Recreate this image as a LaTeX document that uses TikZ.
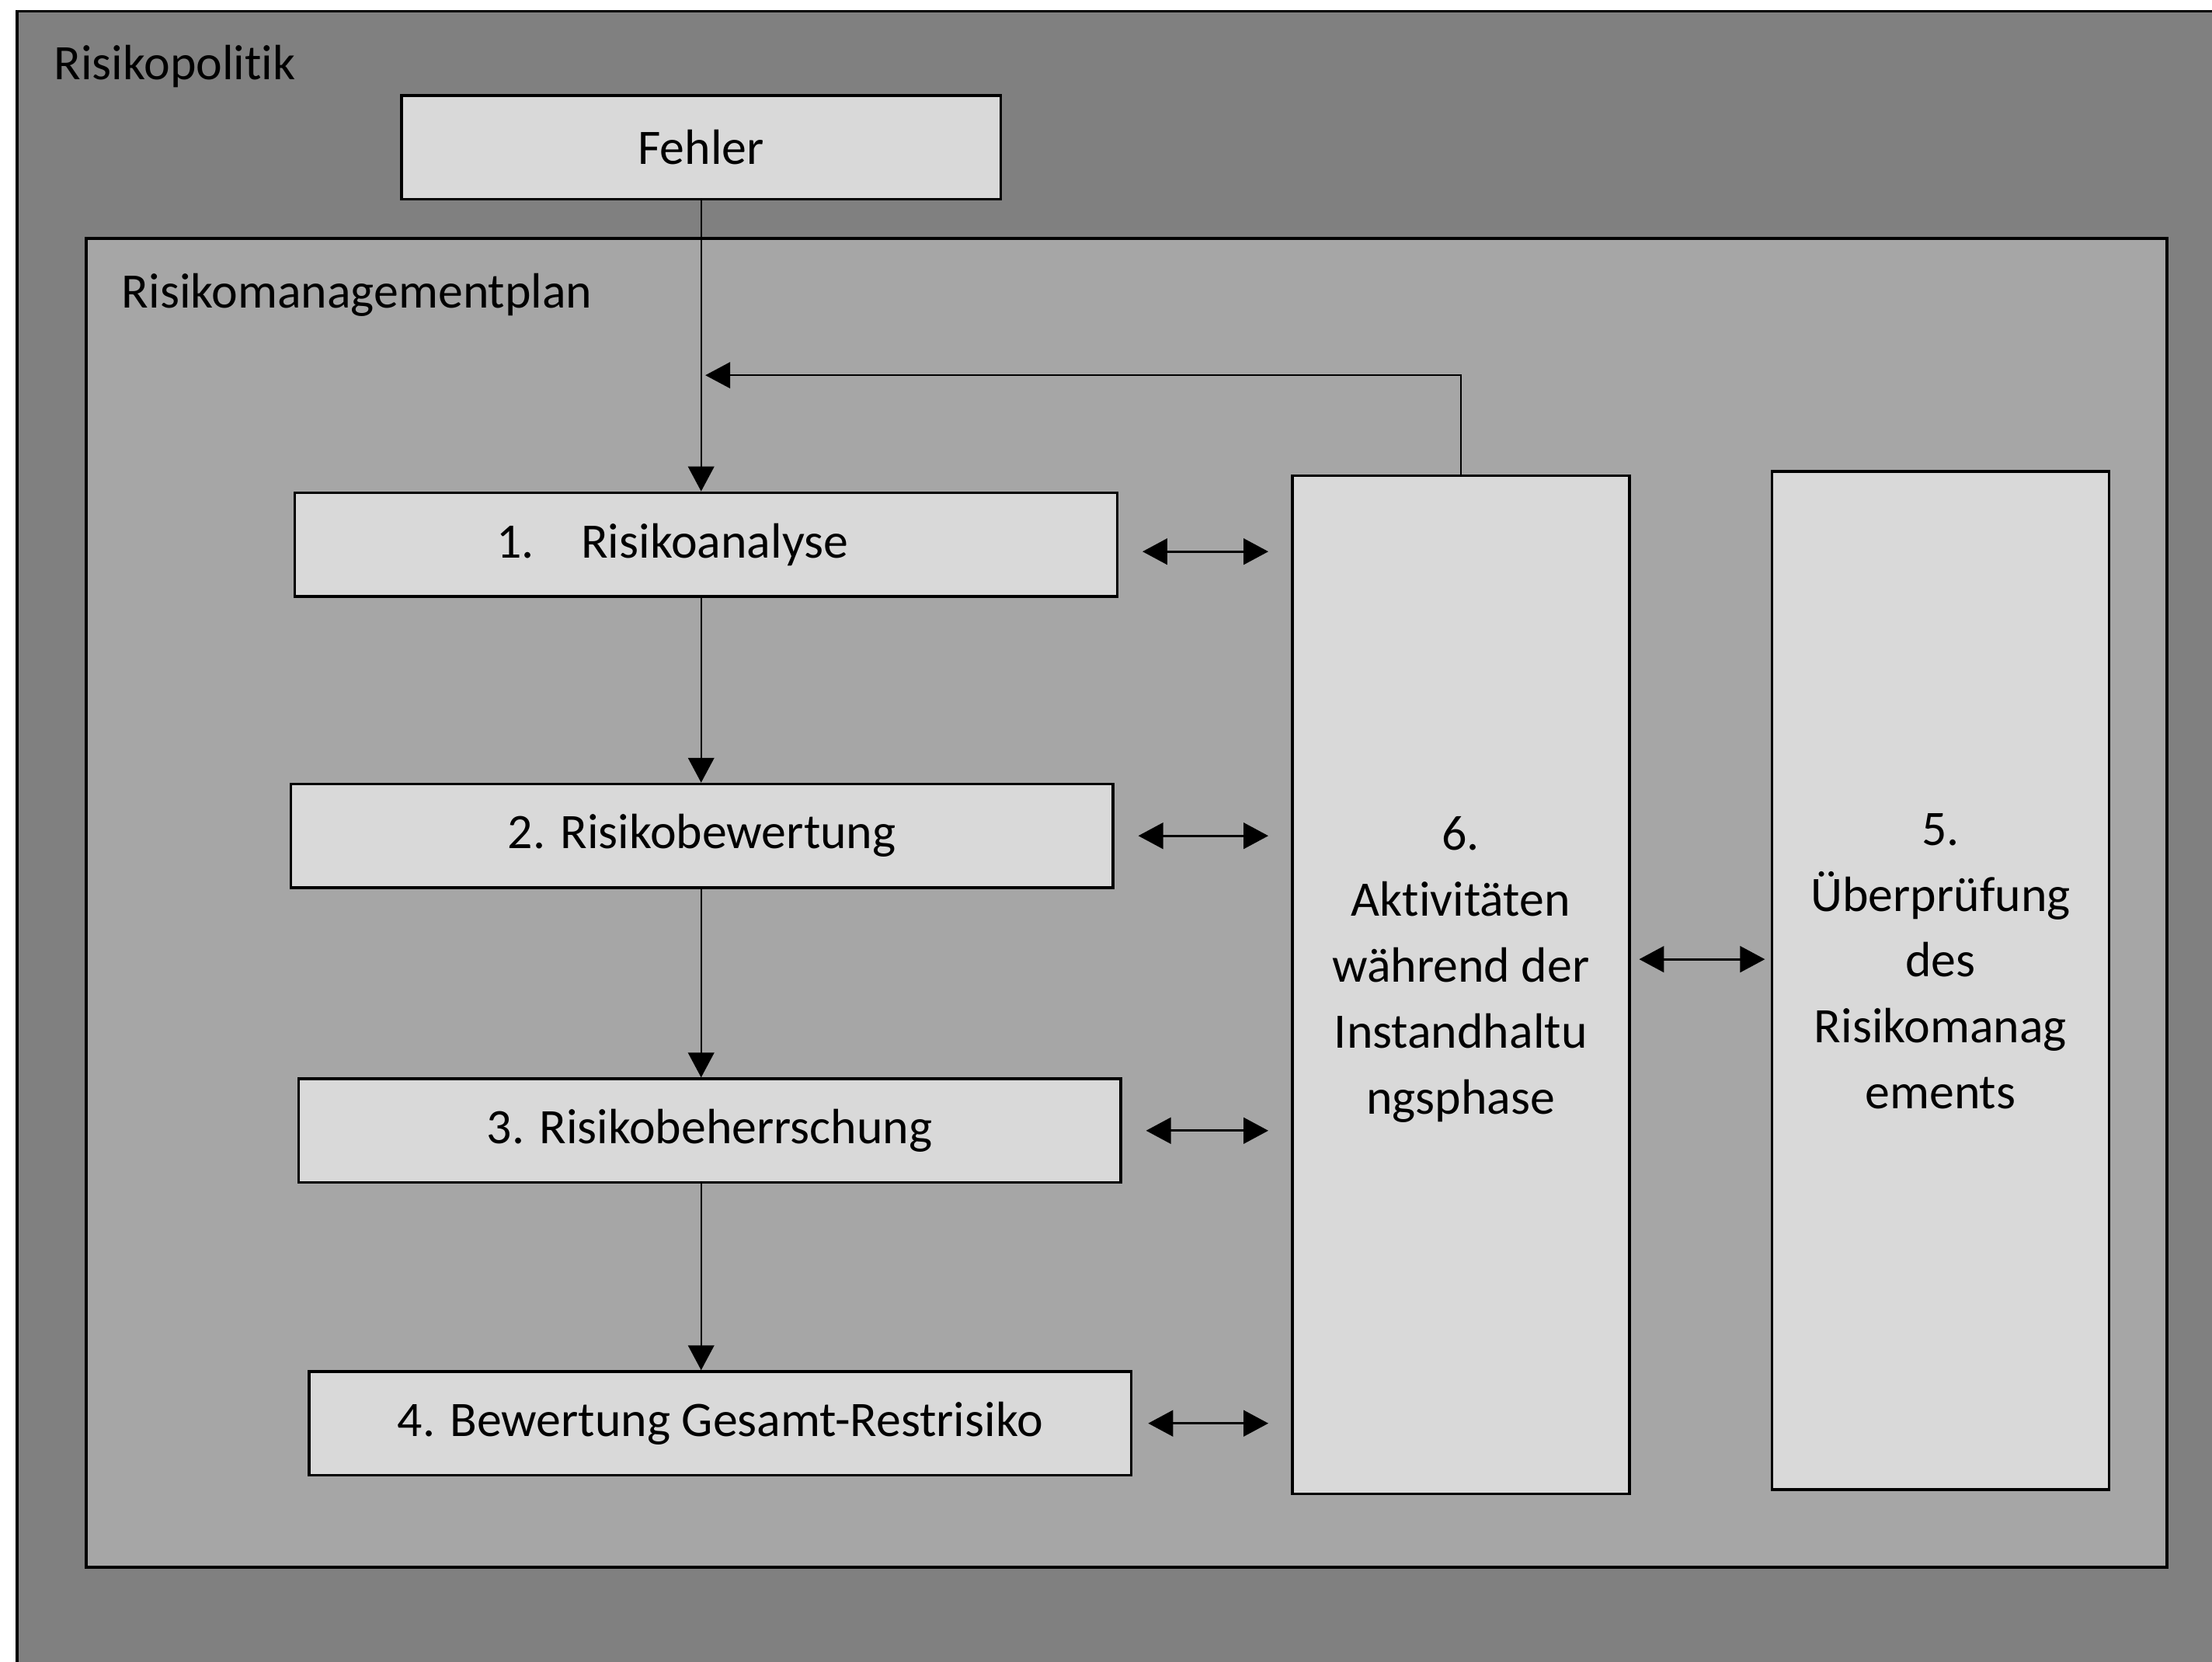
\documentclass[tikz,border=0pt]{standalone}
\usepackage{fontspec}
\setmainfont{Carlito}[Ligatures=NoCommon]
\usepackage{tikz}
\usetikzlibrary{arrows.meta, positioning}
\definecolor{outergray}{HTML}{808080}
\definecolor{innergray}{HTML}{A6A6A6}
\definecolor{boxgray}{HTML}{D9D9D9}
\tikzstyle{stepbox} = [draw=black, line width=1.1pt, fill=boxgray, minimum width=11.66cm, minimum height=1.47cm, inner sep=0pt, align=center]
\tikzstyle{tallbox} = [stepbox, minimum width=4.78cm, minimum height=14.44cm, text depth=0.55cm]
\tikzstyle{arrow} = [line width=0.7pt, -{Triangle[length=10pt, width=10.5pt]}]
\tikzstyle{twoway} = [line width=0.9pt, {Triangle[length=10pt, width=10.5pt]}-{Triangle[length=10pt, width=10.5pt]}, shorten >=0.32cm]

\begin{document}
\begin{tikzpicture}[x=0.02cm, y=-0.02cm, font=\fontsize{20pt}{26.6pt}\selectfont]
    \useasboundingbox[fill=white] (0,0) rectangle (1568,1178);
    % Risikopolitik
    \fill[outergray] (12,8) rectangle (1568,1178);
    \draw[line width=1.1pt] (12,1178) |- (1568,8);
    \node[anchor=west, inner sep=0pt] (politik) at (38,47) {Risikopolitik};
    \node[stepbox, minimum width=8.5cm] (fehler) at (497,104.5) {Fehler};
    % Risikomanagementplan
    \draw[line width=1.1pt, fill=innergray] (61,169) rectangle (1536,1111);
    \node[anchor=west, inner sep=0pt] (plan) at (86,209) {Risikomanagementplan};

    \node[stepbox] (analyse) at (500.5,386) {1.\hspace{0.95em}Risikoanalyse\hspace{1.36em}\null};
    \node[stepbox] (bewertung) at (497.5,592.5) {2. Risikobewertung};
    \node[stepbox] (beherrschung) at (503,801.5) {3. Risikobeherrschung};
    \node[stepbox] (restrisiko) at (510.5,1009) {4. Bewertung Gesamt-Restrisiko};
    \node[tallbox] (aktiv) at (1035.5,698) {6.\\Aktivitäten\\während der\\Instandhaltu\\ngsphase};
    \node[tallbox] (pruefung) at (1375.5,695) {5.\\Überprüfung\\des\\Risikomanag\\ements};

    \coordinate (back) at (500,266);
    \draw[arrow] (fehler.south) -- (fehler.south |- analyse.north);
    \draw[arrow] (analyse.south -| fehler.south) -- (bewertung.north -| fehler.south);
    \draw[arrow] (bewertung.south -| fehler.south) -- (beherrschung.north -| fehler.south);
    \draw[arrow] (beherrschung.south -| fehler.south) -- (restrisiko.north -| fehler.south);
    \draw[arrow] (aktiv.north) |- (back);

    \foreach \n/\dy/\gap in {analyse/-0.1/0.34, bewertung/0/0.34, beherrschung/0/0.34, restrisiko/0/0.22}
        \draw[twoway, shorten <=\gap cm] ([yshift=\dy cm]\n.east) -- ([yshift=\dy cm]\n.east -| aktiv.west);
    \draw[twoway, shorten <=0.12cm, shorten >=0.08cm] ([yshift=0.36cm]aktiv.east) -- ([yshift=0.36cm]aktiv.east -| pruefung.west);
\end{tikzpicture}
\end{document}
